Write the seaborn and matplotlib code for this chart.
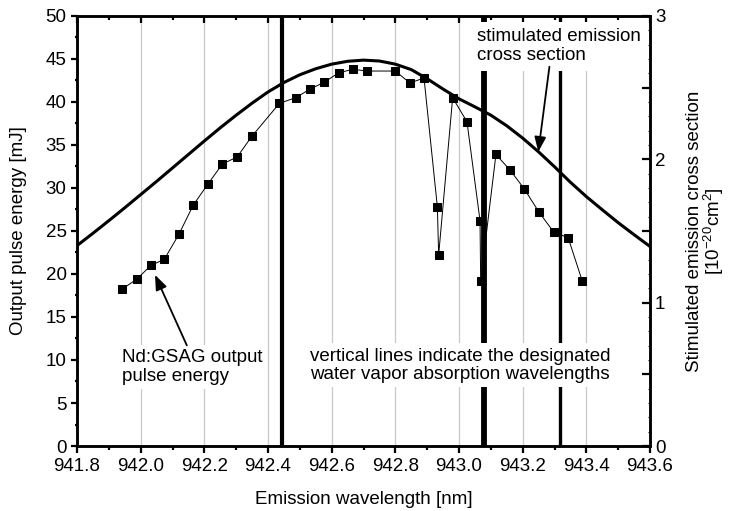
import matplotlib
matplotlib.use("Agg")
import matplotlib.pyplot as plt
from matplotlib.ticker import MultipleLocator, FixedLocator, FuncFormatter
import pandas as pd
import seaborn as sns

# measured output pulse energy (in plotting order, the line goes back and forth)
wavelength = [941.940, 941.988, 942.032, 942.074, 942.120, 942.165, 942.212, 942.257,
              942.303, 942.349, 942.436, 942.487, 942.532, 942.577, 942.622, 942.667,
              942.711, 942.800, 942.846, 942.890, 942.932, 942.936, 942.980, 943.025,
              943.066, 943.068, 943.116, 943.160, 943.205, 943.251, 943.297, 943.343,
              943.387]
energy = [18.2, 19.4, 21.0, 21.7, 24.6, 28.0, 30.5, 32.8,
          33.6, 36.0, 39.85, 40.5, 41.5, 42.3, 43.4, 43.8,
          43.6, 43.6, 42.2, 42.8, 27.8, 22.2, 40.5, 37.7,
          26.2, 19.2, 33.9, 32.1, 29.9, 27.2, 24.9, 24.2,
          19.2]

# stimulated emission cross section [1e-20 cm^2]
cs_wavelength = [941.80, 941.85, 941.90, 941.95, 942.00, 942.05, 942.10, 942.15,
                 942.20, 942.25, 942.30, 942.35, 942.40, 942.45, 942.50, 942.55,
                 942.60, 942.65, 942.70, 942.75, 942.80, 942.85, 942.90, 942.95,
                 943.00, 943.05, 943.10, 943.15, 943.20, 943.25, 943.30, 943.35,
                 943.40, 943.45, 943.50, 943.55, 943.60]
cross_section = [1.398, 1.484, 1.572, 1.662, 1.754, 1.846, 1.940, 2.034,
                 2.128, 2.220, 2.308, 2.392, 2.470, 2.536, 2.590, 2.632,
                 2.664, 2.684, 2.692, 2.686, 2.664, 2.626, 2.562, 2.490,
                 2.422, 2.366, 2.308, 2.234, 2.148, 2.052, 1.948, 1.840,
                 1.740, 1.648, 1.558, 1.474, 1.392]

# water vapor absorption lines
absorption_lines = [942.445, 943.080, 943.318]
absorption_widths = [3.0, 4.2, 2.4]

sns.set_style("ticks")
plt.rcParams["font.family"] = ["Liberation Sans", "DejaVu Sans"]
plt.rcParams["mathtext.fontset"] = "custom"
plt.rcParams["mathtext.rm"] = "Liberation Sans"
plt.rcParams["mathtext.it"] = "Liberation Sans:italic"
for key in ["text.color", "axes.labelcolor", "axes.edgecolor", "xtick.color", "ytick.color"]:
    plt.rcParams[key] = "black"

fs = 13.5

fig = plt.figure(figsize=(7.39, 5.11), dpi=100)
ax = fig.add_subplot(111)
fig.subplots_adjust(left=0.1042, right=0.8796, bottom=0.1272, top=0.9687)

ax.grid(axis="x", which="major", color="#c8c8c8", lw=0.9)
for x0, w in zip(absorption_lines, absorption_widths):
    ax.axvline(x0, color="black", lw=w, zorder=3)

df = pd.DataFrame({"wl": wavelength, "E": energy})
sns.lineplot(data=df, x="wl", y="E", sort=False, estimator=None, ax=ax,
             color="black", lw=0.7, marker="s", markersize=6,
             markeredgecolor="black", markerfacecolor="black", zorder=4)

ax.set_xlim(941.8, 943.6)
ax.set_ylim(0, 50)
ax.xaxis.set_major_locator(MultipleLocator(0.2))
ax.xaxis.set_minor_locator(MultipleLocator(0.1))
ax.xaxis.set_major_formatter(FuncFormatter(lambda v, p: f"{v:.1f}"))
ax.yaxis.set_major_locator(MultipleLocator(5))
ax.yaxis.set_minor_locator(MultipleLocator(2.5))
ax.tick_params(axis="x", which="major", direction="out", length=5, width=1.6, labelsize=fs)
ax.tick_params(axis="x", which="minor", direction="out", length=3, width=1.6)
ax.tick_params(axis="y", which="major", direction="out", length=4, width=1.6, labelsize=fs)
ax.tick_params(axis="y", which="minor", direction="out", length=1.5, width=1.6)
ax.set_xlabel("Emission wavelength [nm]", fontsize=fs, labelpad=12)
ax.set_ylabel("Output pulse energy [mJ]", fontsize=fs)
ax.yaxis.set_label_coords(-0.087, 0.5)
for s in ax.spines.values():
    s.set_linewidth(1.8)

ax2 = ax.twinx()
cs = pd.DataFrame({"wl": cs_wavelength, "cs": cross_section})
sns.lineplot(data=cs, x="wl", y="cs", ax=ax2, color="black", lw=2.2,
             solid_joinstyle="round")
ax2.set_ylim(0, 3)
ax2.yaxis.set_major_locator(FixedLocator([0, 0.5, 1, 1.5, 2, 2.5, 3]))
ax2.yaxis.set_major_formatter(FuncFormatter(lambda v, p: f"{v:.0f}" if v == int(v) else ""))
ax2.yaxis.set_minor_locator(MultipleLocator(0.1))
ax2.tick_params(axis="y", which="major", direction="in", length=6, width=1.6, labelsize=fs)
ax2.tick_params(axis="y", which="minor", direction="in", length=1.5, width=0.8)
ax2.set_ylabel("Stimulated emission cross section\n[10$^{-20}$cm$^{2}$]", fontsize=fs,
               linespacing=0.95)
ax2.yaxis.set_label_coords(1.063, 0.5)
# top axis ticks pointing inwards
ax2.xaxis.set_visible(True)
ax2.tick_params(axis="x", which="both", bottom=False, top=True, labelbottom=False,
                labeltop=False, direction="in", width=1.6)
ax2.tick_params(axis="x", which="major", length=5)
ax2.tick_params(axis="x", which="minor", length=3)
ax2.set_xlabel("")
for s in ax2.spines.values():
    s.set_linewidth(1.8)

box = dict(facecolor="white", edgecolor="none", pad=3)
ax2.text(943.057, 46.5, "stimulated emission\ncross section", transform=ax.transData,
         ha="left", va="center", fontsize=fs, linespacing=1.1, zorder=6,
         bbox=dict(facecolor="white", edgecolor="none", pad=5))
ax2.text(942.532, 9.4, "vertical lines indicate the designated\nwater vapor absorption wavelengths",
         transform=ax.transData, ha="left", va="center", fontsize=fs, linespacing=1.1,
         zorder=6, bbox=box)
ax2.text(941.94, 9.2, "Nd:GSAG output\npulse energy", transform=ax.transData,
         ha="left", va="center", fontsize=fs, linespacing=1.1, zorder=6, bbox=box)

arrow = dict(arrowstyle="-|>,head_length=0.9,head_width=0.35", color="black", lw=1.3,
             shrinkA=0, shrinkB=0)
ax2.annotate("", xy=(942.045, 19.9), xycoords=ax.transData,
             xytext=(942.145, 11.7), textcoords=ax.transData, arrowprops=arrow, zorder=7)
ax2.annotate("", xy=(943.249, 34.2), xycoords=ax.transData,
             xytext=(943.284, 44.1), textcoords=ax.transData, arrowprops=arrow, zorder=7)

fig.savefig("out.png", dpi=100)
